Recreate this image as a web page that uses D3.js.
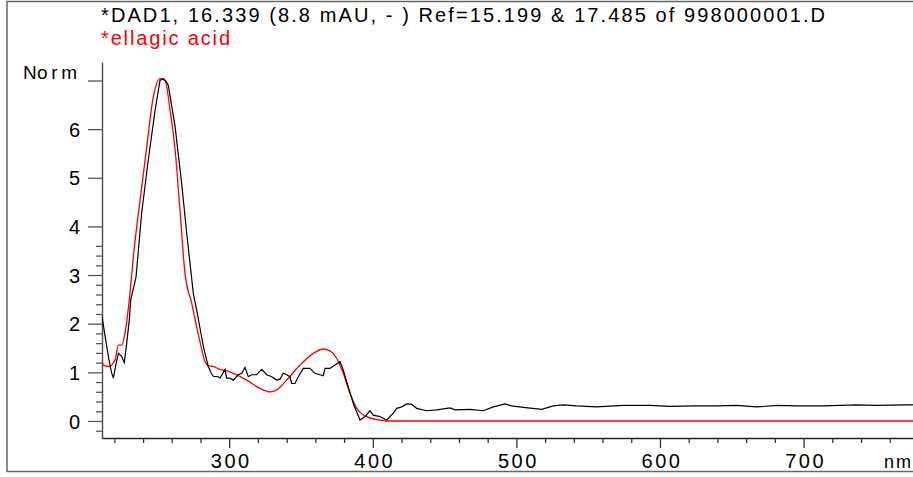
<!DOCTYPE html>
<html>
<head>
<meta charset="utf-8">
<script src="https://cdn.jsdelivr.net/npm/d3@7"></script>
<style>
  body { margin: 0; background: #fff; }
  svg { display: block; font-family: "Liberation Sans", Arial, sans-serif; }
</style>
</head>
<body>
<div class="spectrum-container"></div>
<script>
// sample spectrum (black) - wavelength nm / normalised absorbance
const sampleNm = [211.4, 213.5, 216.0, 218.0, 219.3, 221.0, 222.8, 225.1, 226.9, 228.6, 230.4, 231.4, 233.5, 235.1,
  239.0, 243.6, 248.4, 251.8, 254.1, 256.0, 257.6, 262.3, 266.9, 270.4, 275.0, 277.8, 280.0, 282.0, 285.4, 287.5,
  288.9, 292.4, 293.6, 297.1, 298.2, 300.5, 302.8, 306.3, 308.7, 311.0, 313.3, 315.6, 319.1, 322.6, 326.1, 329.6,
  333.1, 335.4, 337.7, 340.0, 342.3, 343.5, 345.8, 348.1, 351.6, 356.2, 359.7, 363.2, 365.5, 366.7, 370.2, 373.7,
  377.1, 379.4, 382.9, 386.4, 391.1, 394.6, 398.0, 400.3, 405.0, 409.7, 414.3, 416.6, 420.1, 423.6, 427.1, 430.6,
  437.5, 444.5, 453.8, 457.2, 467.7, 477.0, 483.9, 492.0, 496.7, 504.8, 517.6, 525.7, 532.6, 542.0, 555.9, 574.4,
  593.0, 607.0, 625.5, 639.5, 653.4, 667.3, 681.3, 695.2, 713.7, 737.0, 750.9, 771.8, 780.0];
const sampleVal = [2.15, 1.75, 1.3, 1.0, 0.88, 1.15, 1.39, 1.33, 1.2, 1.6, 2.07, 2.49, 2.75, 2.96,
  4.27, 5.36, 6.39, 7.0, 7.04, 6.98, 6.9, 6.05, 4.88, 3.86, 2.62, 2.21, 1.85, 1.53, 1.12, 0.98,
  0.92, 0.91, 0.88, 1.06, 0.88, 0.88, 0.84, 0.95, 0.98, 1.1, 0.91, 0.95, 0.95, 1.06, 0.95, 0.91,
  0.84, 0.86, 0.98, 0.95, 0.91, 0.77, 0.77, 0.91, 1.08, 1.08, 0.98, 0.95, 0.93, 1.08, 1.08, 1.15,
  1.22, 1.05, 0.7, 0.36, 0.02, 0.09, 0.21, 0.12, 0.09, 0.02, 0.16, 0.26, 0.29, 0.35, 0.34, 0.26,
  0.21, 0.23, 0.27, 0.23, 0.24, 0.21, 0.29, 0.35, 0.31, 0.28, 0.24, 0.31, 0.33, 0.31, 0.29, 0.32,
  0.32, 0.30, 0.31, 0.31, 0.32, 0.29, 0.32, 0.31, 0.31, 0.33, 0.32, 0.33, 0.33];

// library spectrum (red) - ellagic acid
const refNm = [211.4, 212.3, 217.0, 219.3, 220.5, 222.8, 225.1, 227.4, 230.4, 233.7, 237.9, 242.0, 247.1, 251.8,
  255.3, 258.8, 262.3, 265.7, 269.2, 273.9, 277.3, 280.5, 283.1, 285.4, 288.9, 293.6, 298.2, 312.2, 321.4, 328.4,
  333.1, 340.0, 349.3, 358.5, 365.5, 370.2, 374.8, 379.4, 384.1, 388.8, 395.7, 405.0, 409.7, 780.0];
const refVal = [1.25, 1.15, 1.12, 1.2, 1.25, 1.56, 1.56, 1.8, 2.49, 3.51, 4.54, 5.5, 6.66, 7.04,
  7.0, 6.39, 5.57, 4.34, 3.03, 2.42, 1.94, 1.52, 1.22, 1.14, 1.12, 1.06, 1.03, 0.84, 0.67, 0.6,
  0.64, 0.84, 1.15, 1.39, 1.48, 1.44, 1.29, 0.98, 0.57, 0.26, 0.09, 0.02, 0.0, 0.0];

// ticks
const xMajorTicks = [300, 400, 500, 600, 700];
const xMinorTicks = d3.range(220, 781, 20).filter(v => v % 100 !== 0);
const yMajorTicks = [0, 1, 2, 3, 4, 5, 6, 7];
const yTickLabels = ['0', '1', '2', '3', '4', '5', '6', ''];
const yMinorTicks = d3.range(-2, 38, 2).map(v => v / 10).filter(v => Math.abs(v - Math.round(v)) > 0.01);

const titleText = '*DAD1, 16.339 (8.8 mAU, - ) Ref=15.199 & 17.485 of 998000001.D';
const subtitleText = '*ellagic acid';

const width = 913;
const height = 477;
const fontStack = '"Liberation Sans", Arial, sans-serif';

const svg = d3.select('.spectrum-container')
    .append('svg')
    .attr('width', width)
    .attr('height', height);

// outer frame
svg.append('rect')
    .attr('x', 7)
    .attr('y', 1.5)
    .attr('width', width + 10)
    .attr('height', 470)
    .attr('fill', 'none')
    .attr('stroke', '#666')
    .attr('stroke-width', 1.5);

// scales
const xScale = d3.scaleLinear()
    .domain([211.4, 776.2])
    .range([102, 913]);

const yScale = d3.scaleLinear()
    .domain([-0.35, 7.38])
    .range([438, 62]);

// y axis - minor then major
svg.append('g')
    .attr('transform', 'translate(102,0)')
    .call(d3.axisLeft(yScale).tickValues(yMinorTicks).tickSize(6).tickSizeOuter(0).tickFormat(''))
    .call(g => g.select('.domain').attr('stroke', '#555').attr('stroke-width', 1.5))
    .call(g => g.selectAll('.tick line').attr('stroke', '#555').attr('stroke-width', 1.3));

svg.append('g')
    .attr('transform', 'translate(102,0)')
    .call(d3.axisLeft(yScale).tickValues(yMajorTicks).tickSize(14).tickSizeOuter(0)
        .tickFormat((d, i) => yTickLabels[i]))
    .call(g => g.select('.domain').remove())
    .call(g => g.selectAll('.tick line').attr('stroke', '#555').attr('stroke-width', 1.3))
    .call(g => g.selectAll('.tick text')
        .attr('x', -22)
        .attr('dy', '0.36em')
        .attr('fill', '#000')
        .style('font-size', '20px')
        .style('font-family', fontStack));

// x axis - minor then major
svg.append('g')
    .attr('transform', 'translate(0,438)')
    .call(d3.axisBottom(xScale).tickValues(xMinorTicks).tickSize(5).tickSizeOuter(0).tickFormat(''))
    .call(g => g.select('.domain').attr('stroke', '#222').attr('stroke-width', 1.5))
    .call(g => g.selectAll('.tick line').attr('stroke', '#333').attr('stroke-width', 1.3));

svg.append('g')
    .attr('transform', 'translate(0,438)')
    .call(d3.axisBottom(xScale).tickValues(xMajorTicks).tickSize(10).tickSizeOuter(0).tickFormat(d3.format('d')))
    .call(g => g.select('.domain').remove())
    .call(g => g.selectAll('.tick text')
        .attr('y', 16)
        .attr('dx', '1.5px')
        .attr('fill', '#000')
        .style('letter-spacing', '2.5px')
        .style('font-size', '20px')
        .style('font-family', fontStack))
    .call(g => g.selectAll('.tick line').attr('stroke', '#333').attr('stroke-width', 1.3));

// unit labels
svg.append('text')
    .attr('x', 884)
    .attr('y', 468)
    .attr('fill', '#000')
    .attr('textLength', 27)
    .attr('lengthAdjust', 'spacing')
    .style('font-size', '18px')
    .text('nm');

svg.append('text')
    .attr('x', 23)
    .attr('y', 79)
    .attr('fill', '#000')
    .style('font-size', '19px')
    .text('N');

svg.append('text')
    .attr('x', 37)
    .attr('y', 79)
    .attr('fill', '#000')
    .attr('textLength', 40)
    .attr('lengthAdjust', 'spacing')
    .style('font-size', '19px')
    .text('orm');

// spectra
const sampleData = sampleNm.map((d, i) => ({ nm: d, v: sampleVal[i] }));
const refData = refNm.map((d, i) => ({ nm: d, v: refVal[i] }));

svg.append('clipPath')
    .attr('id', 'plot-clip')
    .append('rect')
    .attr('x', 102)
    .attr('y', 40)
    .attr('width', 820)
    .attr('height', 398);

const plot = svg.append('g').attr('clip-path', 'url(#plot-clip)');

plot.append('path')
    .datum(refData)
    .attr('fill', 'none')
    .attr('stroke', '#ff0000')
    .attr('stroke-width', 1.3)
    .attr('d', d3.line()
        .x(d => xScale(d.nm))
        .y(d => yScale(d.v))
        .curve(d3.curveMonotoneX));

plot.append('path')
    .datum(sampleData)
    .attr('fill', 'none')
    .attr('stroke', '#000')
    .attr('stroke-width', 1.2)
    .attr('d', d3.line()
        .x(d => xScale(d.nm))
        .y(d => yScale(d.v)));

// titles
svg.append('text')
    .attr('x', 101)
    .attr('y', 22)
    .attr('fill', '#000')
    .attr('textLength', 724)
    .attr('lengthAdjust', 'spacing')
    .style('font-size', '20px')
    .text(titleText);

svg.append('text')
    .attr('x', 101)
    .attr('y', 45)
    .attr('fill', '#ff0000')
    .attr('textLength', 129)
    .attr('lengthAdjust', 'spacing')
    .style('font-size', '20px')
    .text(subtitleText);
</script>
</body>
</html>
